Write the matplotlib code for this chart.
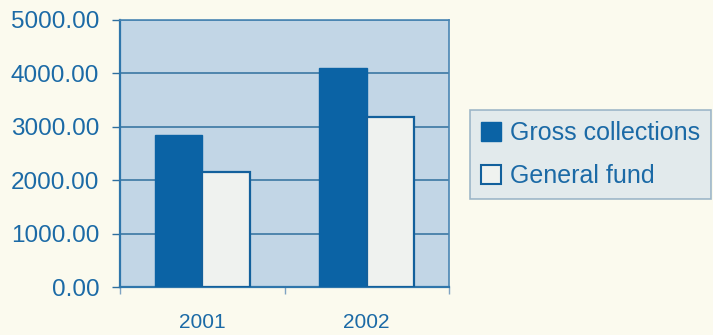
import matplotlib
matplotlib.use("Agg")
import matplotlib.pyplot as plt
import numpy as np
from matplotlib.patches import Patch

years = ["2001", "2002"]
gross_collections = [2850, 4100]
general_fund = [2160, 3190]
y_ticks = [0, 1000, 2000, 3000, 4000, 5000]

PAPER = "#fbfaee"
PLOT_BG = "#c2d6e6"
DARK = "#0b63a5"
LIGHT = "#eff2ef"
INK = "#1b6aa6"
GRID = "#2f6f9e"

plt.rcParams["font.family"] = ["Liberation Sans", "DejaVu Sans"]

fig = plt.figure(figsize=(7.13, 3.35), dpi=100, facecolor=PAPER)
ax = fig.add_axes([120 / 713, 48 / 335, 329 / 713, 267 / 335])
ax.set_facecolor(PLOT_BG)

x = np.arange(len(years))
w = 0.29
ax.bar(x - w / 2, gross_collections, w, color=DARK, edgecolor=DARK,
       linewidth=1, zorder=3, label="Gross collections")
ax.bar(x + w / 2, general_fund, w, color=LIGHT, edgecolor="#12609c",
       linewidth=1.6, zorder=3, label="General fund")

ax.set_xlim(-0.5, 1.5)
ax.set_ylim(0, 5000)
ax.set_yticks(y_ticks)
ax.set_yticklabels([f"{v:.2f}" for v in y_ticks])
ax.yaxis.grid(True, color=GRID, linewidth=1.1, zorder=1)
ax.set_axisbelow(True)

# category labels at centres, tick marks at category boundaries
ax.set_xticks(x)
ax.set_xticklabels(years)
ax.set_xticks([-0.5, 0.5, 1.5], minor=True)
ax.tick_params(axis="x", which="major", length=0, pad=19, labelsize=15,
               labelcolor=INK)
ax.tick_params(axis="x", which="minor", length=5, width=1, color="#7fa3c2",
               direction="out")
ax.tick_params(axis="y", length=6, width=1, color=GRID, pad=9,
               labelsize=17.5, labelcolor=INK)

for side in ["left", "bottom"]:
    ax.spines[side].set_color("#2f76ab")
    ax.spines[side].set_linewidth(1.6)
for side in ["top", "right"]:
    ax.spines[side].set_color("#4a86b4")
    ax.spines[side].set_linewidth(1.2)

handles = [
    Patch(facecolor=DARK, edgecolor=DARK, label="Gross collections"),
    Patch(facecolor=LIGHT, edgecolor="#12609c", linewidth=1.5,
          label="General fund"),
]
leg = fig.legend(handles=handles, loc="upper left",
                 bbox_to_anchor=(470 / 713, 1 - 110 / 335),
                 frameon=True, fancybox=False, fontsize=18,
                 handlelength=0.8, handleheight=0.8, handletextpad=0.35,
                 borderpad=0.45, labelspacing=0.75, borderaxespad=0)
leg.get_frame().set_facecolor("#dce6ec")
leg.get_frame().set_edgecolor("#8aa8bf")
leg.get_frame().set_linewidth(1.2)
for t in leg.get_texts():
    t.set_color(INK)

fig.savefig("out.png", dpi=100, facecolor=PAPER)
